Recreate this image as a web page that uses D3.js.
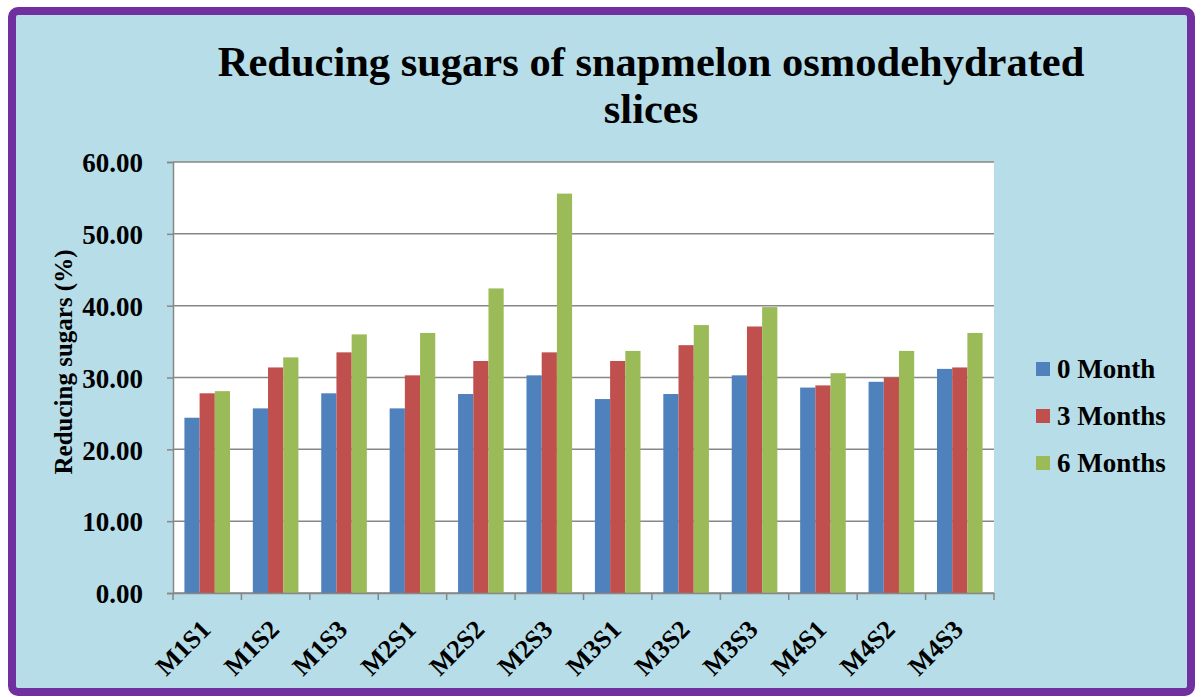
<!DOCTYPE html>
<html>
<head>
<meta charset="utf-8">
<script src="https://cdn.jsdelivr.net/npm/d3@7"></script>
<style>
  html, body { margin: 0; padding: 0; background: #fff; }
  svg { display: block; font-family: "Liberation Serif", "Times New Roman", serif; }
</style>
</head>
<body>
<svg id="chart" width="1203" height="697"></svg>
<script>
// data
const categories = ["M1S1", "M1S2", "M1S3", "M2S1", "M2S2", "M2S3", "M3S1", "M3S2", "M3S3", "M4S1", "M4S2", "M4S3"];
const seriesNames = ["0 Month", "3 Months", "6 Months"];
const month0 = [24.4, 25.7, 27.8, 25.7, 27.7, 30.3, 27.0, 27.7, 30.3, 28.6, 29.4, 31.2];
const month3 = [27.8, 31.4, 33.5, 30.3, 32.3, 33.5, 32.3, 34.5, 37.1, 28.9, 30.0, 31.4];
const month6 = [28.1, 32.8, 36.0, 36.2, 42.4, 55.6, 33.7, 37.3, 39.8, 30.6, 33.7, 36.2];
const yTicks = [0, 10, 20, 30, 40, 50, 60];
const colors = ["#4F81BD", "#C0504D", "#9BBB59"];

const svg = d3.select("#chart");
const W = 1203, H = 697;

// frame
svg.append("rect")
    .attr("x", 12).attr("y", 11)
    .attr("width", W - 24).attr("height", H - 16)
    .attr("rx", 6)
    .attr("fill", "#B7DDE8")
    .attr("stroke", "#7030A0")
    .attr("stroke-width", 8);

// plot area
const plot = { left: 173, top: 162, right: 994, bottom: 593 };

const x0 = d3.scaleBand()
    .domain(categories)
    .range([plot.left, plot.right])
    .padding(0);

const x1 = d3.scaleBand()
    .domain(seriesNames)
    .range([x0.bandwidth() * 0.1667, x0.bandwidth() * 0.8333])
    .padding(0);

const y = d3.scaleLinear()
    .domain([0, 60])
    .range([plot.bottom, plot.top]);

svg.append("rect")
    .attr("x", plot.left).attr("y", plot.top)
    .attr("width", plot.right - plot.left)
    .attr("height", plot.bottom - plot.top)
    .attr("fill", "#fff");

// gridlines
svg.append("g")
    .selectAll("line")
    .data(yTicks)
    .join("line")
    .attr("x1", plot.left).attr("x2", plot.right)
    .attr("y1", d => y(d)).attr("y2", d => y(d))
    .attr("stroke", "#878787")
    .attr("stroke-width", 1.5);

// bars
const table = categories.map((c, i) => ({
    cat: c,
    values: [month0[i], month3[i], month6[i]]
}));

const groups = svg.append("g")
    .selectAll("g")
    .data(table)
    .join("g")
    .attr("transform", d => `translate(${x0(d.cat)},0)`);

groups.selectAll("rect")
    .data(d => d.values.map((v, k) => ({ name: seriesNames[k], value: v, k })))
    .join("rect")
    .attr("x", d => x1(d.name))
    .attr("width", x1.bandwidth())
    .attr("y", d => y(d.value))
    .attr("height", d => y(0) - y(d.value))
    .attr("fill", d => colors[d.k]);

// y axis
const yAxis = svg.append("g")
    .attr("transform", `translate(${plot.left},0)`)
    .call(d3.axisLeft(y).tickValues(yTicks).tickFormat(d3.format(".2f")).tickSize(6).tickPadding(24));
yAxis.select(".domain").attr("stroke", "#878787").attr("stroke-width", 1.5);
yAxis.selectAll(".tick line").attr("stroke", "#878787").attr("stroke-width", 1.5);
yAxis.selectAll("text")
    .attr("fill", "#000")
    .attr("dy", "0.36em")
    .style("font-size", "27px")
    .style("font-weight", "bold")
    .style("font-family", "Liberation Serif, serif");

// x axis
const xAxis = svg.append("g")
    .attr("transform", `translate(0,${plot.bottom})`)
    .call(d3.axisBottom(x0).tickSize(0).tickFormat(""));
xAxis.select(".domain").attr("stroke", "#878787").attr("stroke-width", 1.5);

svg.append("g")
    .selectAll("line")
    .data(d3.range(categories.length + 1))
    .join("line")
    .attr("x1", i => plot.left + i * x0.step())
    .attr("x2", i => plot.left + i * x0.step())
    .attr("y1", plot.bottom).attr("y2", plot.bottom + 7)
    .attr("stroke", "#878787")
    .attr("stroke-width", 1.5);

svg.append("g")
    .selectAll("text")
    .data(categories)
    .join("text")
    .attr("transform", d => `translate(${x0(d) + x0.bandwidth() / 2 + 5},${plot.bottom + 38}) rotate(-45)`)
    .attr("text-anchor", "end")
    .style("font-size", "26px")
    .style("font-weight", "bold")
    .text(d => d);

// y axis title
svg.append("text")
    .attr("transform", `translate(72,362) rotate(-90)`)
    .attr("text-anchor", "middle")
    .style("font-size", "25px")
    .style("font-weight", "bold")
    .text("Reducing sugars (%)");

// title
const title = svg.append("text")
    .attr("text-anchor", "middle")
    .style("font-size", "42.5px")
    .style("font-weight", "bold");
title.append("tspan").attr("x", 651).attr("y", 76).text("Reducing sugars of snapmelon osmodehydrated");
title.append("tspan").attr("x", 651).attr("y", 123).text("slices");

// legend
const legend = svg.append("g")
    .selectAll("g")
    .data(seriesNames)
    .join("g")
    .attr("transform", (d, i) => `translate(1036,${369 + i * 47})`);

legend.append("rect")
    .attr("x", 0).attr("y", -7)
    .attr("width", 14).attr("height", 14)
    .attr("fill", (d, i) => colors[i]);

legend.append("text")
    .attr("x", 21)
    .attr("dy", "0.35em")
    .style("font-size", "27px")
    .style("font-weight", "bold")
    .text(d => d);
</script>
</body>
</html>
